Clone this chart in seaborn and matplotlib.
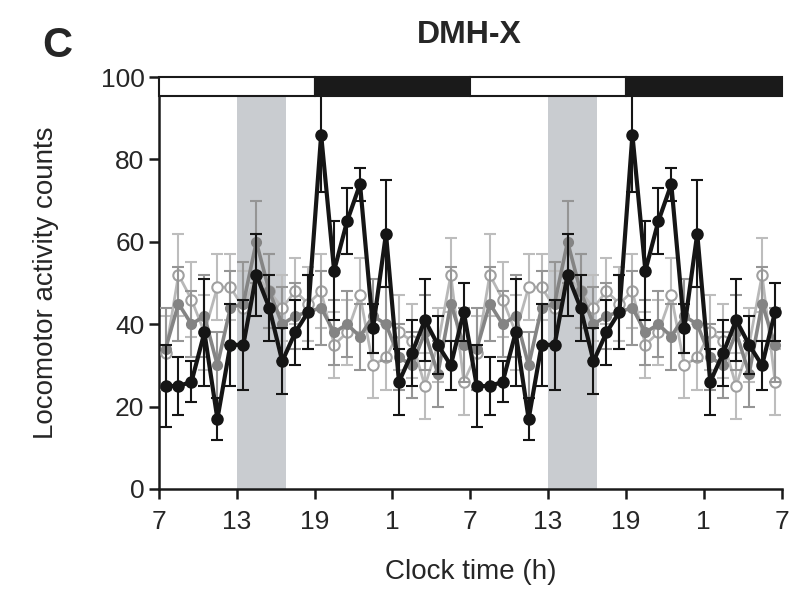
import numpy as np
import matplotlib
matplotlib.use("Agg")
import matplotlib.pyplot as plt
import pandas as pd
import seaborn as sns

# hourly means, clock hours 7..6 (double plotted below)
clock_hours = [7, 8, 9, 10, 11, 12, 13, 14, 15, 16, 17, 18,
               19, 20, 21, 22, 23, 0, 1, 2, 3, 4, 5, 6]
black_mean = [25, 25, 26, 38, 17, 35, 35, 52, 44, 31, 38, 43,
              86, 53, 65, 74, 39, 62, 26, 33, 41, 35, 30, 43]
black_err = [10, 7, 5, 13, 5, 10, 11, 10, 8, 8, 8, 9,
             14, 12, 8, 4, 6, 13, 8, 8, 10, 7, 6, 7]
gray_mean = [34, 45, 40, 42, 30, 44, 45, 60, 48, 40, 42, 43,
             44, 38, 40, 37, 42, 40, 32, 30, 38, 28, 45, 35]
gray_err = [10, 9, 8, 10, 8, 9, 10, 10, 9, 9, 8, 9,
            9, 8, 8, 8, 9, 9, 8, 8, 9, 8, 9, 9]
open_mean = [33, 52, 46, 38, 49, 49, 44, 52, 48, 44, 48, 45,
             48, 35, 38, 47, 30, 32, 38, 36, 25, 35, 52, 26]
open_err = [9, 10, 9, 9, 8, 8, 9, 10, 9, 8, 8, 9,
            9, 8, 8, 9, 8, 8, 9, 9, 8, 9, 9, 8]

tick_labels = ["7", "13", "19", "1", "7", "13", "19", "1", "7"]
light_dark = [("light", 0, 12), ("dark", 12, 24), ("light", 24, 36), ("dark", 36, 48)]
shade_windows = [(6, 9.8), (30, 33.8)]

n = len(clock_hours)
x = np.arange(2 * n) + 0.5
df = pd.DataFrame({
    "t": np.concatenate([x, x, x]),
    "count": np.concatenate([np.tile(open_mean, 2), np.tile(gray_mean, 2), np.tile(black_mean, 2)]),
    "err": np.concatenate([np.tile(open_err, 2), np.tile(gray_err, 2), np.tile(black_err, 2)]),
    "group": ["open"] * 2 * n + ["gray"] * 2 * n + ["black"] * 2 * n,
})

sns.set_style("ticks")
plt.rcParams["font.family"] = ["Liberation Sans", "DejaVu Sans"]

fig = plt.figure(figsize=(7.92, 5.91), dpi=100)
ax = fig.add_axes([0.2008, 0.1726, 0.786, 0.697])

for a, b in shade_windows:
    ax.axvspan(a, b, ymin=0, ymax=0.952, color="#c9ccd0", lw=0, zorder=0)

styles = {
    "open": dict(color="#b8b8b8", mfc="white", mec="#a0a0a0", lw=2.0, ms=7.5, ecolor="#bdbdbd"),
    "gray": dict(color="#848484", mfc="#848484", mec="#848484", lw=2.6, ms=6.5, ecolor="#959595"),
    "black": dict(color="#151515", mfc="#151515", mec="#151515", lw=3.0, ms=7.5, ecolor="#151515"),
}
for z, g in enumerate(["open", "gray", "black"]):
    d = df[df["group"] == g]
    st = styles[g]
    ax.errorbar(d["t"], d["count"], yerr=d["err"], fmt="none", ecolor=st["ecolor"],
                elinewidth=1.5, capsize=4, capthick=1.5, zorder=2 + z)
    sns.lineplot(data=d, x="t", y="count", ax=ax, color=st["color"], lw=st["lw"],
                 marker="o", markersize=st["ms"], markerfacecolor=st["mfc"],
                 markeredgecolor=st["mec"], markeredgewidth=1.5, zorder=3 + z,
                 legend=False)

for kind, a, b in light_dark:
    ax.add_patch(plt.Rectangle((a, 95.3), b - a, 4.7, facecolor="white" if kind == "light" else "#1a1a1a",
                               edgecolor="#1a1a1a", lw=1.5, zorder=10, clip_on=False))

ax.set_xlim(0, 48)
ax.set_ylim(0, 100)
ax.set_xticks(np.arange(0, 49, 6))
ax.set_xticklabels(tick_labels)
ax.set_yticks(np.arange(0, 101, 20))
ax.tick_params(axis="both", labelsize=19, width=1.8, length=7, direction="out", color="#1a1a1a")
ax.tick_params(axis="x", pad=8)
for s in ["top", "right"]:
    ax.spines[s].set_visible(False)
for s in ["left", "bottom"]:
    ax.spines[s].set_linewidth(1.8)
    ax.spines[s].set_color("#1a1a1a")
ax.set_xlabel("Clock time (h)", fontsize=20, labelpad=18)
ax.set_ylabel("Locomotor activity counts", fontsize=20, labelpad=30)

fig.text(0.593, 0.94, "DMH-X", fontsize=23, fontweight="bold", ha="center", va="center")
fig.text(0.072, 0.922, "C", fontsize=30, fontweight="bold", ha="center", va="center")

fig.savefig("out.png", dpi=100)
